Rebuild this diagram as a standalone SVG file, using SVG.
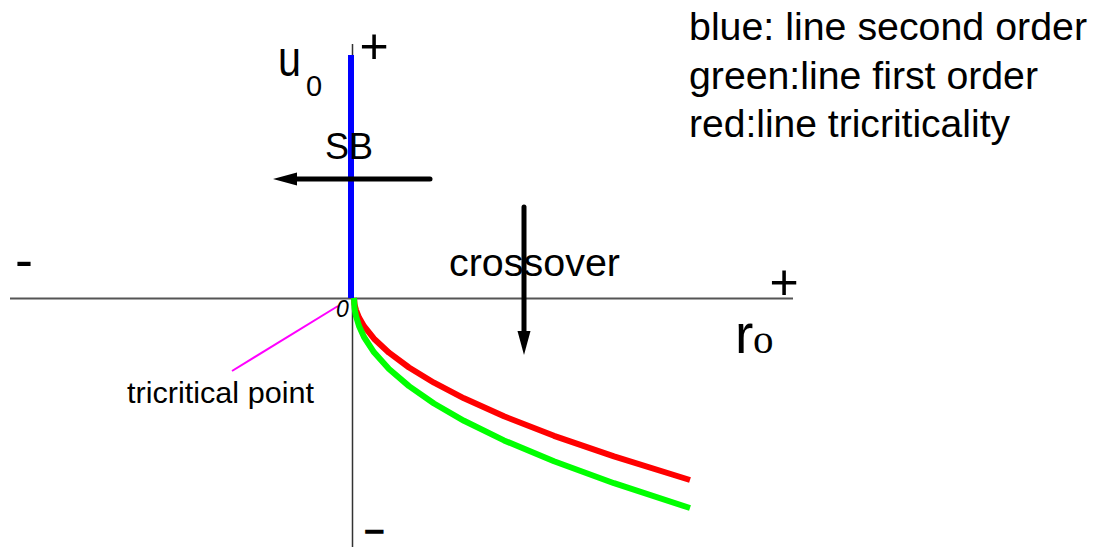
<svg xmlns="http://www.w3.org/2000/svg" width="1094" height="547" viewBox="0 0 1094 547">
<style>
.t{font-family:"Liberation Sans",Arial,sans-serif;fill:#000}
.ax{stroke:#555;stroke-width:2;fill:none}
.arr{stroke:#000;stroke-width:5;stroke-linecap:round;fill:none}
.crv{stroke-width:6;fill:none;stroke-linejoin:round;stroke-linecap:butt}
</style>
<defs>
<marker id="ah" markerUnits="userSpaceOnUse" markerWidth="26" markerHeight="14" refX="0" refY="7" orient="auto" viewBox="0 0 26 14">
<path d="M0,0.5 L24,7 L0,13.5 z" fill="#000"/>
</marker>
</defs>
<rect width="1094" height="547" fill="#fff"/>
<g id="axes">
<line class="ax" x1="10" y1="298.5" x2="793" y2="298.5"/>
<line x1="352.5" y1="44" x2="352.5" y2="547" stroke="#333" stroke-width="1.5"/>
</g>
<g id="curves">
<line x1="351" y1="55" x2="351" y2="298" stroke="#0000ff" stroke-width="6"/>
<polyline class="crv" stroke="#ff0000" points="354,298 354.5,303.7 355,306.3 356,310 359,317.5 364,326.2 374,338.7 389,352.7 409,367.5 434,382.7 464,398.3 504,416.3 554,435.8 614,456.3 690,480"/>
<polyline class="crv" stroke="#00ff00" points="354,298 354.5,307.3 355,311 356,316.1 359,326 364,337 374,352.3 389,369 409,386.1 434,403.5 464,420.8 504,440.4 554,461.3 614,483.2 690,508"/>
</g>
<g id="connectors">
<line class="arr" x1="430" y1="179" x2="297" y2="179" marker-end="url(#ah)"/>
<line class="arr" x1="524" y1="207" x2="524" y2="331" marker-end="url(#ah)"/>
<line x1="232" y1="371" x2="338" y2="306" stroke="#ff00ff" stroke-width="2"/>
</g>
<g id="axis-labels">
<text class="t" x="278" y="76" font-size="50" textLength="23" lengthAdjust="spacingAndGlyphs">u</text>
<text class="t" x="306" y="96" font-size="29">0</text>
<text class="t" x="359.5" y="63" font-size="50">+</text>
<text class="t" x="769.5" y="299" font-size="50">+</text>
<text class="t" x="15" y="278" font-size="54">-</text>
<text class="t" transform="translate(366,539.5) scale(2,1)" x="-1" y="0" font-size="31" stroke="#000" stroke-width="1.6">-</text>
<text class="t" x="735" y="353" font-size="55">r</text>
<text x="753" y="353" font-size="41" font-family="'Liberation Serif','Times New Roman',serif">o</text>
</g>
<g id="sb"><text class="t" x="325" y="159" font-size="36" textLength="48" lengthAdjust="spacingAndGlyphs">SB</text></g>
<g id="crossover"><text class="t" x="449" y="276" font-size="38" textLength="171" lengthAdjust="spacingAndGlyphs">crossover</text></g>
<g id="tricritical"><text class="t" x="127" y="403" font-size="29" textLength="187" lengthAdjust="spacingAndGlyphs">tricritical point</text>
<text class="t" x="336" y="317" font-size="23" font-style="italic">0</text></g>
<g id="legend">
<text class="t" x="689" y="40" font-size="38" textLength="398" lengthAdjust="spacingAndGlyphs">blue: line second order</text>
<text class="t" x="689" y="89" font-size="38" textLength="349" lengthAdjust="spacingAndGlyphs">green:line first order</text>
<text class="t" x="689" y="137" font-size="38" textLength="321" lengthAdjust="spacingAndGlyphs">red:line tricriticality</text>
</g>
</svg>
